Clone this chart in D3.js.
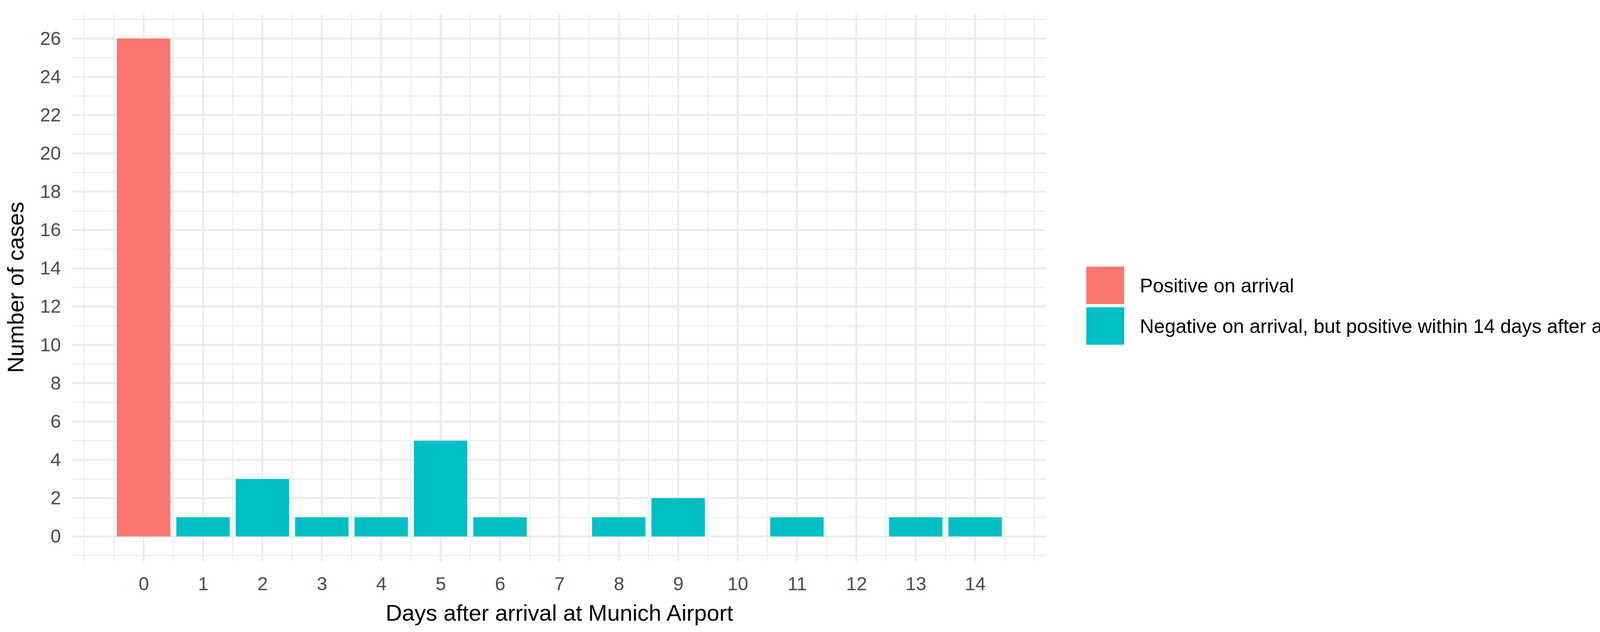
<!DOCTYPE html>
<html><head><meta charset="utf-8">
<script src="https://cdn.jsdelivr.net/npm/d3@7"></script>
<style>body{margin:0;background:#fff}text{font-family:"Liberation Sans",Arial,sans-serif}</style>
</head><body><svg id="c" width="4277" height="1619"></svg>
<script>
const days = [0,1,2,3,4,5,6,7,8,9,10,11,12,13,14];
const positiveOnArrival = [26,0,0,0,0,0,0,0,0,0,0,0,0,0,0];
const negativeThenPositive = [0,1,3,1,1,5,1,0,1,2,0,1,0,1,1];
const yTicks = [0,2,4,6,8,10,12,14,16,18,20,22,24,26];
const seriesNames = ["Positive on arrival","Negative on arrival, but positive within 14 days after arrival"];
const colors = ["#F8766D","#00BFC4"];

const svg = d3.select("#c");
const x = d3.scaleLinear().domain([-1.195,15.195]).range([186,2678]);
const y = d3.scaleLinear().domain([-1.3,27.3]).range([1438,35]);
const g = svg.append("g");
const xMinor = d3.range(-1,15.01,0.5).filter(v=>!(Number.isInteger(v)&&v>=0&&v<=14));
const yMinor = d3.range(-1,27.01,2);
g.selectAll(".xm").data(xMinor).join("line").attr("x1",d=>x(d)).attr("x2",d=>x(d)).attr("y1",35).attr("y2",1438).attr("stroke","#ebebeb").attr("stroke-width",2.7);
g.selectAll(".ym").data(yMinor).join("line").attr("y1",d=>y(d)).attr("y2",d=>y(d)).attr("x1",186).attr("x2",2678).attr("stroke","#ebebeb").attr("stroke-width",2.7);
g.selectAll(".xM").data(days).join("line").attr("x1",d=>x(d)).attr("x2",d=>x(d)).attr("y1",35).attr("y2",1438).attr("stroke","#ebebeb").attr("stroke-width",5);
g.selectAll(".yM").data(yTicks).join("line").attr("y1",d=>y(d)).attr("y2",d=>y(d)).attr("x1",186).attr("x2",2678).attr("stroke","#ebebeb").attr("stroke-width",5);
const bw = 0.9;
[positiveOnArrival,negativeThenPositive].forEach((vals,i)=>{
  svg.append("g").selectAll("rect").data(days.map((d,j)=>({d,v:vals[j]})).filter(o=>o.v>0)).join("rect")
    .attr("x",o=>x(o.d-bw/2)).attr("width",x(bw)-x(0))
    .attr("y",o=>y(o.v)).attr("height",o=>y(0)-y(o.v)).attr("fill",colors[i]);
});
const xa = svg.append("g").attr("transform","translate(0,1438)").call(d3.axisBottom(x).tickValues(days).tickSize(0).tickPadding(40).tickFormat(d3.format("d")));
const ya = svg.append("g").attr("transform","translate(186,0)").call(d3.axisLeft(y).tickValues(yTicks).tickSize(0).tickPadding(30).tickFormat(d3.format("d")));
[xa,ya].forEach(a=>{a.select(".domain").remove();a.selectAll("text").attr("font-size",48).attr("fill","#4d4d4d").style("font-family","Liberation Sans, Arial, sans-serif");});
svg.append("text").attr("x",1432).attr("y",1590).attr("text-anchor","middle").attr("font-size",58).attr("fill","#000").text("Days after arrival at Munich Airport");
svg.append("text").attr("transform","translate(60,736) rotate(-90)").attr("text-anchor","middle").attr("font-size",58).attr("fill","#000").text("Number of cases");
const lg = svg.append("g");
const ly = [683,787];
const labels = seriesNames.map((n,i)=>{
  lg.append("rect").attr("x",2781).attr("y",ly[i]).attr("width",97).attr("height",96).attr("fill",colors[i]);
  return lg.append("text").attr("x",2918).attr("y",ly[i]+48).attr("dy","0.35em").attr("font-size",50).attr("fill","#000").text(n);
});
// fit the longest label to the reference width
const w = labels[1].node().getComputedTextLength();
const fs = Math.min(50, 50*1340/w);
labels.forEach(t=>t.attr("font-size",fs));
</script></body></html>
